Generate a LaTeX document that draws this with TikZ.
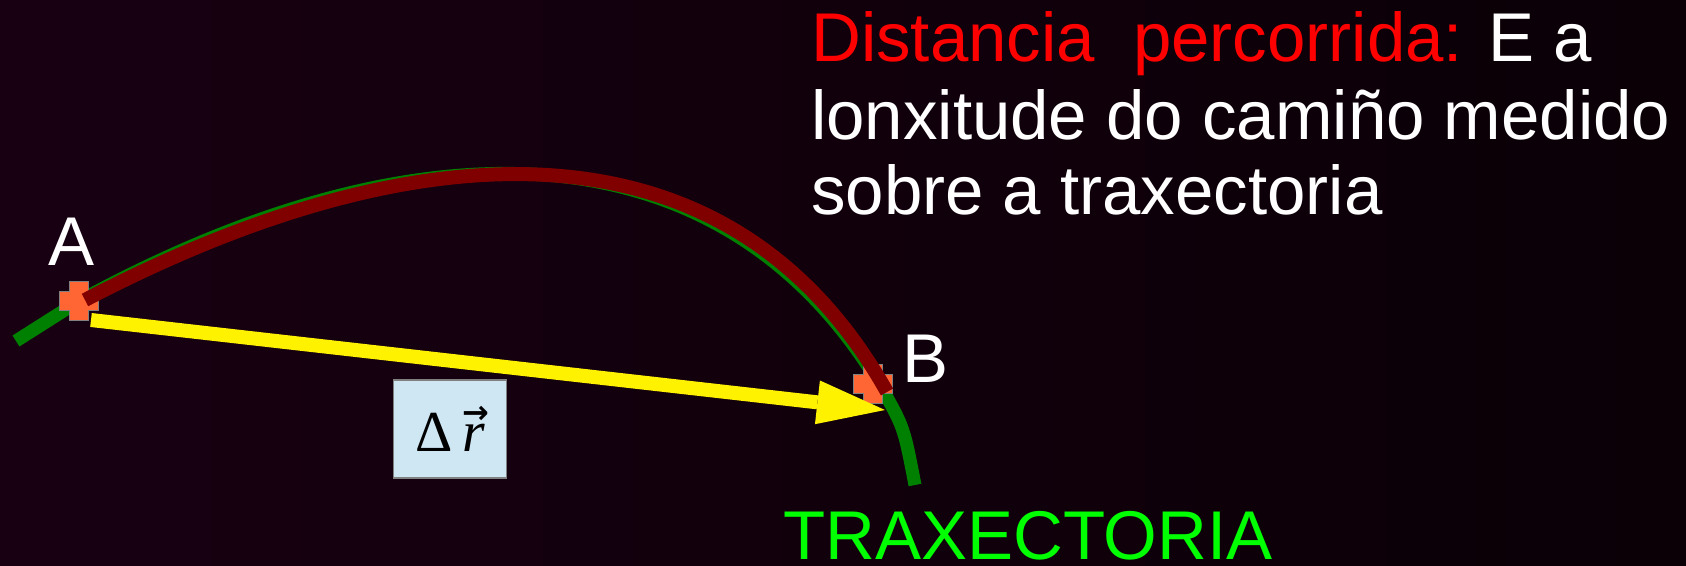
\documentclass[tikz,border=0pt]{standalone}
\usepackage{fontspec}
\setmainfont{Liberation Sans}
\newfontfamily\serifrm{Liberation Serif}
\newfontfamily\arrowfont{DejaVu Sans}
\usetikzlibrary{arrows.meta}
\definecolor{bgL}{HTML}{180012}
\definecolor{bgR}{HTML}{0A0006}
\definecolor{trajgreen}{HTML}{008000}
\definecolor{pathred}{HTML}{800000}
\definecolor{markorange}{HTML}{FF6633}
\definecolor{markedge}{HTML}{808080}
\definecolor{boxblue}{HTML}{CFE6F3}
\definecolor{labelgreen}{HTML}{00FF00}
\definecolor{titlered}{HTML}{FF0000}
\tikzset{
  bigtext/.style={font=\fontsize{69}{77}\selectfont, inner sep=0pt, anchor=base west, text=white},
  trajline/.style={draw=trajgreen, line width=13pt, line cap=butt, line join=round},
  distline/.style={draw=pathred, line width=14pt, line cap=butt},
  dispvec/.style={draw=yellow, line width=14pt, line cap=butt, -{Triangle[length=68pt,width=44pt,line width=0pt]}, fill=yellow},
  deltabox/.style={draw=markedge, line width=1.5pt, fill=boxblue, minimum width=113pt, minimum height=98pt, inner sep=0pt},
  plusmark/.pic={\draw[fill=markorange, draw=markedge, line width=1pt]
    (-9.5,-19.5) -- (9.5,-19.5) -- (9.5,-9.5) -- (19.5,-9.5) -- (19.5,9.5) -- (9.5,9.5)
    -- (9.5,19.5) -- (-9.5,19.5) -- (-9.5,9.5) -- (-19.5,9.5) -- (-19.5,-9.5) -- (-9.5,-9.5) -- cycle;}
}
\begin{document}
\begin{tikzpicture}[x=1pt,y=-1pt]
\shade[left color=bgL,right color=bgR] (0,0) rectangle (1686,565);
\useasboundingbox (0,0) rectangle (1686,565);

% key points
\coordinate (G0) at (16,341);
\coordinate (A) at (79,301);
\coordinate (Bg) at (884,392);
\coordinate (G1) at (915,485);
\coordinate (B) at (873,384);
\coordinate (R0) at (85,300);
\coordinate (R1) at (887,392);
\coordinate (Y0) at (91,320);
\coordinate (Y1) at (885,410);

% trajectory
\draw[trajline] (G0) -- (A) .. controls (414,118) and (724,118) .. (Bg) .. controls (904,428) .. (G1);

% position markers
\pic at (A) {plusmark};
\pic at (B) {plusmark};

% distance travelled
\draw[distline] (R0) .. controls (420,125) and (730,112) .. (R1);

% displacement vector
\draw[dispvec] (Y0) -- (Y1);

% delta r box
\node[deltabox] (dr) at (450,429) {{\serifrm\fontsize{58}{58}\selectfont Δ\,\textit{r}\kern-9pt\makebox[0pt][c]{\raisebox{28pt}{\arrowfont\bfseries\fontsize{32}{32}\selectfont →}}\kern9pt}};

% labels
\node[bigtext] (labA) at (48,265) {A};
\node[bigtext] (labB) at (902,382) {B};
\node[bigtext, text=labelgreen] (labT) at (783,559) {TRAXECTORIA};

\node[bigtext] (t1) at (811,61) {\textcolor{titlered}{Distancia\ \ percorrida:} E a};
\node[bigtext] (t2) at (811,139) {lonxitude do camiño medido};
\node[bigtext] (t3) at (811,214) {sobre a traxectoria};
\end{tikzpicture}
\end{document}
